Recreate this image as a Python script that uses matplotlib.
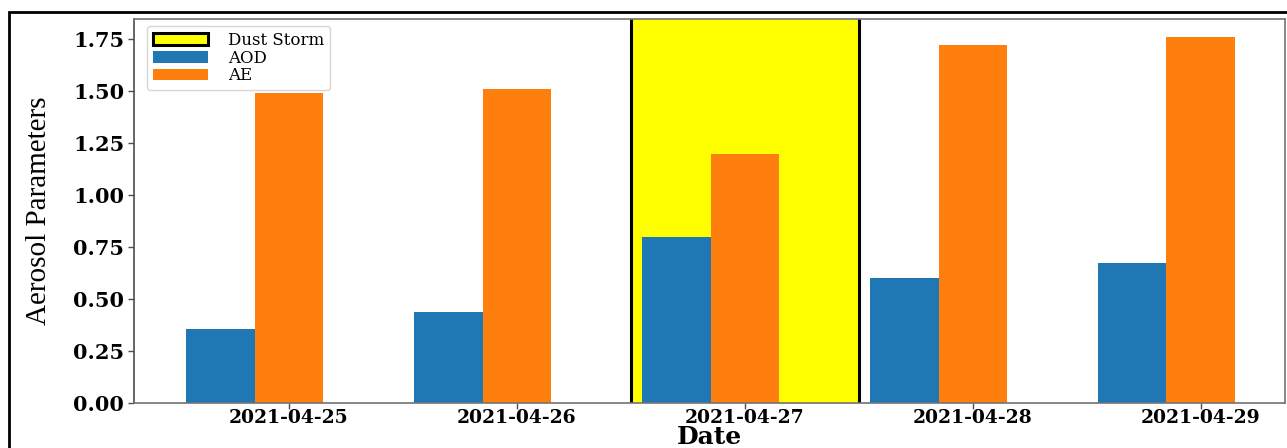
import numpy as np
import matplotlib.pyplot as plt
from matplotlib.patches import Rectangle

# datos
fechas = ['2021-04-25', '2021-04-26', '2021-04-27', '2021-04-28', '2021-04-29']
aod = [0.355, 0.44, 0.80, 0.60, 0.673]
ae = [1.49, 1.51, 1.20, 1.725, 1.76]
dia_tormenta = '2021-04-27'

ancho = 0.3
x = np.arange(len(fechas))

fig = plt.figure(figsize=(12.87, 4.48), dpi=100)
ax = fig.add_axes([134 / 1287, 1 - 403 / 448, (1285 - 134) / 1287, (403 - 19) / 448])

# sombreado del dia de la tormenta (bordes de arriba y abajo quedan fuera del eje)
i_t = fechas.index(dia_tormenta)
ax.axvspan(x[i_t] + ancho - 0.5, x[i_t] + ancho + 0.5, ymin=-0.02, ymax=1.02,
           facecolor='yellow', edgecolor='black', linewidth=2.2,
           label='Dust Storm', zorder=0)

ax.bar(x, aod, ancho, color='#1f77b4', label='AOD', zorder=2)
ax.bar(x + ancho, ae, ancho, color='#ff7f0e', label='AE', zorder=2)

ax.set_xlim(-0.38, 4.67)
ax.set_ylim(0, 1.848)
ax.set_xticks(x + ancho)
ax.set_xticklabels(fechas, fontfamily='DejaVu Serif', fontweight='bold', fontsize=13.5)
ax.set_yticks(np.arange(0, 1.76, 0.25))
ax.set_yticklabels([f'{v:.2f}' for v in np.arange(0, 1.76, 0.25)],
                   fontfamily='DejaVu Serif', fontweight='bold', fontsize=15)

ax.tick_params(length=4, width=1, color='0.3')
ax.tick_params(axis='x', pad=0)
ax.tick_params(axis='y', pad=3)

for s in ax.spines.values():
    s.set_color('0.45')
    s.set_linewidth(1.2)
ax.spines['left'].set_color('0.3')

ax.set_xlabel('Date', fontfamily='DejaVu Serif', fontweight='bold', fontsize=18)
ax.xaxis.label.set_va('baseline')
ax.xaxis.set_label_coords(0.5, -0.107)
ax.set_ylabel('Aerosol Parameters', fontfamily='Liberation Serif', fontsize=21, labelpad=15)

ax.legend(loc='upper left', prop={'family': 'DejaVu Serif', 'size': 12},
          handlelength=3.3, handleheight=0.7, handletextpad=1.2, labelspacing=0.05,
          borderpad=0.35, borderaxespad=0, bbox_to_anchor=(0.0113, 0.982))

# marco exterior de la figura
fig.add_artist(Rectangle((9 / 1287, -0.2), 1.2, 1 - 12 / 448 + 0.2, transform=fig.transFigure,
                         fill=False, edgecolor='black', linewidth=2, clip_on=False))

fig.savefig('out.png', dpi=100)
